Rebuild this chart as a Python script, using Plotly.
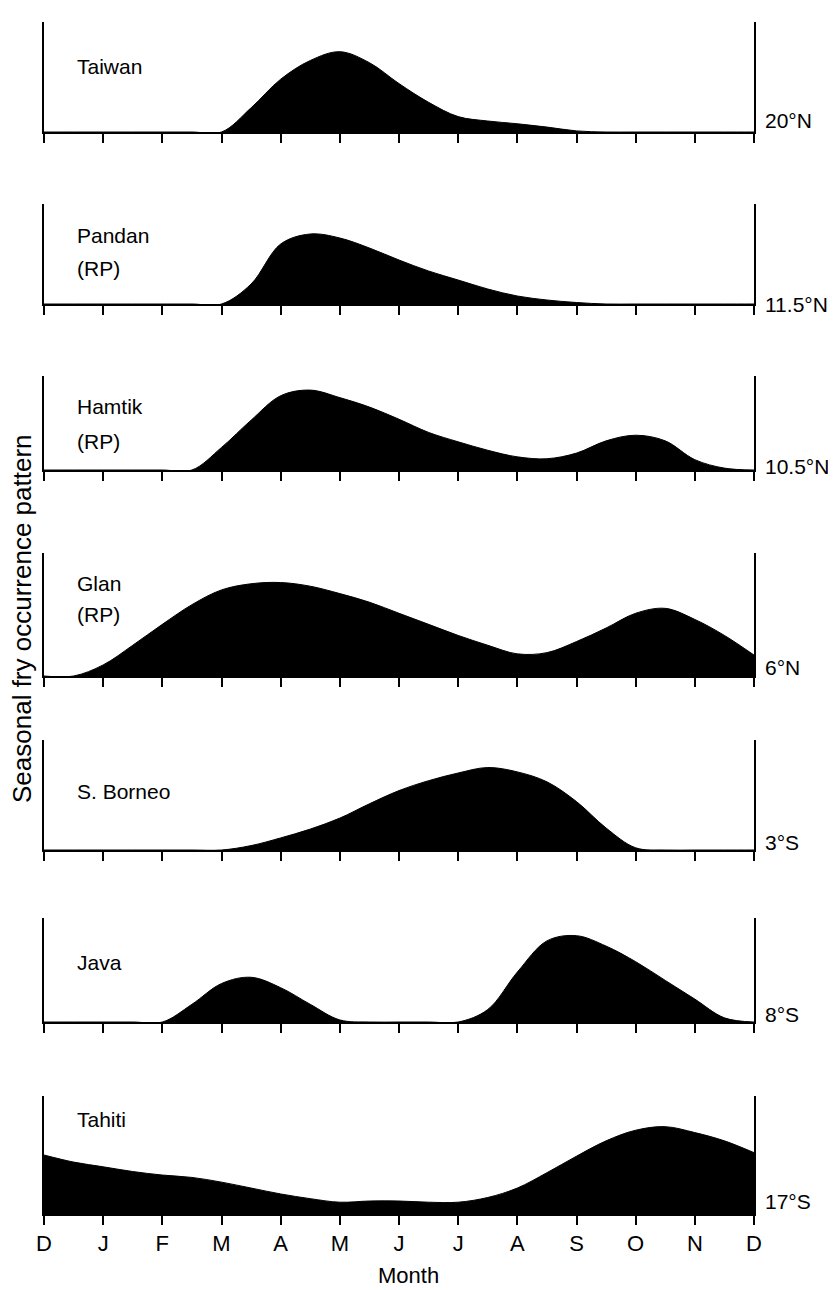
import plotly.graph_objects as go

# Month grid (0 = first D tick, 12 = last D tick), half-month steps
months = [0, 0.5, 1, 1.5, 2, 2.5, 3, 3.5, 4, 4.5, 5, 5.5, 6, 6.5, 7, 7.5, 8, 8.5,
          9, 9.5, 10, 10.5, 11, 11.5, 12]
tick_labels = ["D", "J", "F", "M", "A", "M", "J", "J", "A", "S", "O", "N", "D"]

sites = ["Taiwan", "Pandan", "Hamtik", "Glan", "S. Borneo", "Java", "Tahiti"]
sub_labels = ["", "(RP)", "(RP)", "(RP)", "", "", ""]
latitudes = ["20°N", "11.5°N", "10.5°N", "6°N", "3°S", "8°S", "17°S"]

taiwan = [0, 0, 0, 0, 0, 0, 0, 0.22, 0.48, 0.65, 0.73, 0.63, 0.44, 0.27, 0.14, 0.10,
          0.075, 0.045, 0.01, 0, 0, 0, 0, 0, 0]
pandan = [0, 0, 0, 0, 0, 0, 0, 0.20, 0.60, 0.70, 0.66, 0.56, 0.44, 0.33, 0.24, 0.15,
          0.08, 0.04, 0.015, 0, 0, 0, 0, 0, 0]
hamtik = [0, 0, 0, 0, 0, 0, 0.24, 0.53, 0.79, 0.85, 0.77, 0.67, 0.54, 0.40, 0.30, 0.21,
          0.14, 0.12, 0.18, 0.31, 0.37, 0.31, 0.11, 0.02, 0]
glan = [0, 0, 0.09, 0.25, 0.42, 0.58, 0.70, 0.75, 0.76, 0.73, 0.67, 0.60, 0.51, 0.42,
        0.33, 0.25, 0.18, 0.19, 0.28, 0.39, 0.51, 0.55, 0.46, 0.33, 0.17]
s_borneo = [0, 0, 0, 0, 0, 0, 0, 0.04, 0.11, 0.19, 0.29, 0.42, 0.54, 0.63, 0.70, 0.75,
            0.71, 0.62, 0.44, 0.20, 0.02, 0, 0, 0, 0]
java = [0, 0, 0, 0, 0, 0.17, 0.37, 0.43, 0.33, 0.17, 0.02, 0, 0, 0, 0, 0.12, 0.48, 0.78,
        0.83, 0.73, 0.58, 0.40, 0.22, 0.04, 0]
tahiti = [0.50, 0.44, 0.40, 0.36, 0.33, 0.31, 0.27, 0.22, 0.17, 0.13, 0.10, 0.11, 0.11,
          0.10, 0.10, 0.14, 0.22, 0.35, 0.49, 0.62, 0.71, 0.74, 0.69, 0.62, 0.52]
series = [taiwan, pandan, hamtik, glan, s_borneo, java, tahiti]

# panel top / baseline in pixels
W, H = 836, 1290
ML, MR = 36, 90
tops = [14, 196, 368, 545, 732, 910, 1088]
bases = [124, 296, 462, 668, 842, 1014, 1206]
name_y = [0.60, 0.69, 0.68, 0.75, 0.53, 0.57, 0.80]
sub_y = [0, 0.36, 0.30, 0.50, 0, 0, 0]
lat_y = [0.10, 0.0, 0.04, 0.07, 0.07, 0.07, 0.11]

LABEL_FONT = "Liberation Sans Narrow, Liberation Sans, Arial, sans-serif"
MAIN_FONT = "Liberation Sans, Arial, sans-serif"

fig = go.Figure()
layout = dict(
    width=W, height=H,
    margin=dict(l=ML, r=MR, t=0, b=0),
    paper_bgcolor="white", plot_bgcolor="white",
    showlegend=False,
    annotations=[],
)

n = len(series)
for i in range(n):
    k = "" if i == 0 else str(i + 1)
    xa, ya = "x" + k, "y" + k
    fig.add_trace(go.Scatter(
        x=months, y=series[i], xaxis=xa, yaxis=ya,
        mode="lines", line=dict(color="black", width=1, shape="spline", smoothing=1.0),
        fill="tozeroy", fillcolor="black", hoverinfo="skip",
    ))
    last = i == n - 1
    layout["xaxis" + k] = dict(
        domain=[0, 1], anchor=ya, range=[0, 12],
        showline=True, linecolor="black", linewidth=2,
        ticks="outside", ticklen=9, tickwidth=2, tickcolor="black",
        tickvals=list(range(13)),
        ticktext=tick_labels if last else [""] * 13,
        showticklabels=last,
        tickfont=dict(family=LABEL_FONT, size=22, color="black"),
        showgrid=False, zeroline=False, fixedrange=True,
    )
    layout["yaxis" + k] = dict(
        domain=[1 - bases[i] / H, 1 - tops[i] / H], anchor=xa, range=[0, 1],
        showline=True, mirror=True, linecolor="black", linewidth=2,
        ticks="", showticklabels=False, showgrid=False, zeroline=False, fixedrange=True,
    )
    layout["annotations"].append(dict(
        xref=xa + " domain", yref=ya + " domain", x=0.043, y=name_y[i],
        text=sites[i], showarrow=False, xanchor="left", yanchor="middle", align="left",
        font=dict(family=LABEL_FONT, size=21, color="black"),
    ))
    if sub_labels[i]:
        layout["annotations"].append(dict(
            xref=xa + " domain", yref=ya + " domain", x=0.043, y=sub_y[i],
            text=sub_labels[i], showarrow=False, xanchor="left", yanchor="middle",
            font=dict(family=LABEL_FONT, size=21, color="black"),
        ))
    layout["annotations"].append(dict(
        xref=xa + " domain", yref=ya + " domain", x=1.012, y=lat_y[i],
        text=latitudes[i], showarrow=False, xanchor="left", yanchor="middle",
        font=dict(family=LABEL_FONT, size=21, color="black"),
    ))

PW = W - ML - MR
layout["annotations"].append(dict(
    xref="paper", yref="paper", x=(400 - ML) / PW, y=1 - 1267 / H,
    text="Month", showarrow=False, xanchor="center", yanchor="middle",
    font=dict(family=LABEL_FONT, size=22, color="black"),
))
layout["annotations"].append(dict(
    xref="paper", yref="paper", x=(14 - ML) / PW, y=1 - 611 / H,
    text="Seasonal fry occurrence pattern", showarrow=False, textangle=-90,
    xanchor="center", yanchor="middle",
    font=dict(family=MAIN_FONT, size=26, color="black"),
))

fig.update_layout(**layout)
fig.write_html("out.html")
